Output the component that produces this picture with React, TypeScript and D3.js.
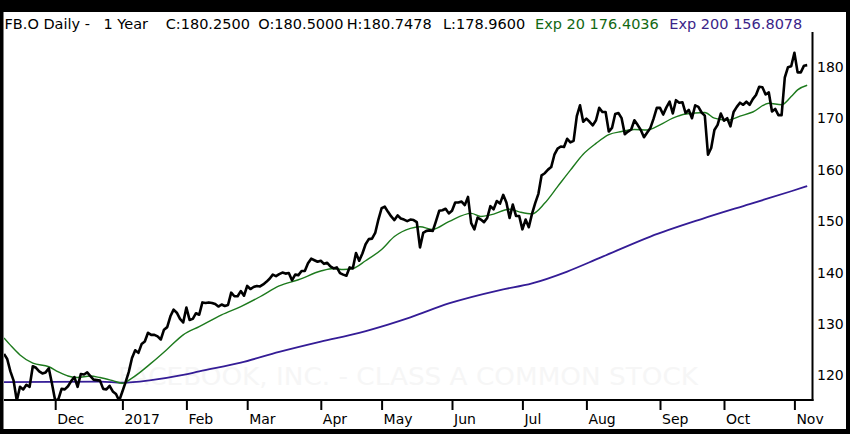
import React, { useEffect, useRef } from 'react'
import { scaleLinear, select, line, curveMonotoneX, curveLinear, axisBottom, axisRight } from 'd3'

// daily closes, one array per month (Nov 8 2016 .. Nov 7 2017)
const nov16 = [124.2, 123.2, 120.8, 119.0, 115.1, 117.8, 117.3, 118.2, 117.8, 121.8, 121.5, 120.8, 120.4, 120.6, 121.4, 118.4]
const dec16 = [115.1, 115.4, 117.4, 117.3, 117.9, 118.9, 119.7, 117.8, 120.3, 120.2, 120.6, 119.9, 119.2, 119.1, 119.0, 117.4, 117.3, 118.0, 116.9, 116.4, 115.1]
const jan17 = [116.9, 118.7, 120.7, 123.4, 124.9, 124.4, 126.1, 126.6, 128.3, 127.9, 127.9, 127.6, 127.0, 128.9, 129.4, 131.5, 132.8, 132.2, 131.0, 130.3]
const feb17 = [133.2, 130.8, 131.0, 132.1, 131.8, 134.2, 134.1, 134.2, 134.1, 133.9, 133.4, 133.8, 133.5, 133.7, 136.1, 135.4, 135.4, 136.4, 135.5]
const mar17 = [137.4, 136.8, 137.2, 137.4, 137.3, 137.7, 138.2, 138.8, 139.6, 139.3, 139.7, 140.0, 139.8, 139.9, 138.5, 139.6, 139.5, 140.3, 140.3, 141.8, 142.7, 142.4, 142.1]
const apr17 = [142.3, 141.7, 141.9, 141.2, 140.8, 141.0, 139.9, 139.6, 139.4, 141.0, 140.8, 143.8, 142.3, 143.7, 145.5, 146.5, 146.6, 147.7, 150.3]
const may17 = [152.5, 152.8, 151.8, 150.9, 150.2, 151.1, 150.5, 150.3, 150.0, 150.3, 150.2, 149.8, 144.9, 147.7, 148.1, 148.2, 148.1, 150.0, 152.0, 152.1, 152.4, 151.5]
const jun17 = [152.0, 153.6, 153.6, 153.8, 153.1, 154.7, 149.6, 148.4, 150.7, 150.3, 149.8, 150.6, 152.9, 152.3, 153.9, 153.4, 155.1, 153.6, 150.6, 153.2, 151.0, 151.0]
const jul17 = [148.4, 150.3, 148.8, 151.4, 153.5, 155.3, 158.9, 159.3, 160.0, 160.5, 162.9, 164.1, 164.5, 164.4, 166.0, 165.3, 165.6, 170.4, 172.5, 169.3]
const aug17 = [169.9, 169.3, 168.6, 169.6, 172.0, 171.2, 171.2, 167.4, 168.1, 170.8, 171.0, 170.0, 166.9, 167.4, 167.8, 169.6, 168.7, 167.7, 166.3, 167.2, 168.1, 169.9, 172.0]
const sep17 = [172.0, 170.7, 172.1, 173.2, 170.9, 173.5, 173.0, 173.1, 171.0, 171.6, 170.0, 172.5, 172.2, 171.1, 170.5, 162.9, 164.2, 167.7, 168.7, 170.9]
const oct17 = [169.5, 170.0, 168.4, 171.2, 172.2, 173.0, 172.6, 173.2, 172.6, 173.7, 174.5, 176.1, 176.0, 174.6, 175.0, 171.3, 171.8, 170.6, 170.6, 177.9, 179.9, 180.1]
const nov17 = [182.7, 178.9, 178.9, 180.2, 180.3]

const closesByMonth = [nov16, dec16, jan17, feb17, mar17, apr17, may17, jun17, jul17, aug17, sep17, oct17, nov17]
const monthLabels = ['', 'Dec', '2017', 'Feb', 'Mar', 'Apr', 'May', 'Jun', 'Jul', 'Aug', 'Sep', 'Oct', 'Nov']

// moving averages (trading day index -> value)
const ema20Days = [0, 2, 5, 9, 14, 17, 20, 23, 27, 30, 34, 37, 40, 46, 51, 56, 61, 68, 74, 80, 86, 92, 99, 103, 106, 109, 113, 118, 122, 127, 130, 134, 139, 146, 149, 152, 158, 161, 165, 169, 173, 177, 181, 185, 189, 193, 197, 201, 205, 209, 213, 219, 222, 226, 230, 234, 239, 243, 246, 248, 251]
const ema20Values = [127.3, 125.9, 124.0, 122.4, 121.7, 120.7, 119.9, 119.6, 119.9, 119.6, 119.0, 118.5, 119.5, 122.4, 125.1, 127.9, 129.5, 131.8, 133.4, 135.3, 137.4, 138.6, 140.3, 140.8, 140.6, 140.8, 142.3, 144.5, 147.0, 148.6, 148.9, 148.4, 149.9, 151.5, 150.9, 151.2, 152.3, 151.8, 151.4, 153.5, 156.7, 159.9, 163.0, 165.1, 166.8, 167.4, 167.8, 167.7, 168.7, 170.0, 170.8, 171.1, 170.0, 169.6, 170.4, 171.2, 172.9, 172.6, 174.2, 175.5, 176.4]
const ema200Days = [0, 30, 37, 46, 56, 61, 74, 86, 99, 111, 120, 127, 139, 155, 165, 176, 186, 202, 218, 233, 246, 251]
const ema200Values = [118.7, 118.8, 118.6, 119.1, 120.1, 120.8, 122.5, 124.6, 126.6, 128.3, 129.9, 131.3, 134.0, 136.6, 137.9, 140.2, 142.8, 147.0, 150.4, 153.3, 155.8, 156.8]

const yTicks = [120, 130, 140, 150, 160, 170, 180]

const titleParts = ['FB.O Daily -', '1 Year']
const ohlcParts = ['C:180.2500', 'O:180.5000', 'H:180.7478', 'L:178.9600']
const ema20Label = 'Exp 20 176.4036'
const ema200Label = 'Exp 200 156.8078'
const watermark = 'FACEBOOK, INC. - CLASS A COMMON STOCK'

const App = () => {
    const chartRef = useRef<SVGSVGElement>(null)

    useEffect(() => {
        const width = 850
        const height = 434
        const plot = { left: 4, right: 812.5, top: 32, bottom: 400 }
        const font = "'DejaVu Sans', Verdana, sans-serif"

        const svg = select(chartRef.current)
        svg.selectAll('*').remove()

        const closes = closesByMonth.flat()
        const monthStarts: number[] = []
        let n = 0
        closesByMonth.forEach(m => { monthStarts.push(n); n += m.length })

        const x = scaleLinear().domain([0, closes.length - 1]).range([4, 807.2])
        const y = scaleLinear().domain([120, 180]).range([375.5, 66.7])

        // frame
        svg.append('rect').attr('width', width).attr('height', height).attr('fill', '#000')
        svg.append('rect').attr('x', 3.5).attr('y', 12).attr('width', 842.5).attr('height', 417).attr('fill', '#fff')

        svg.append('defs').append('clipPath').attr('id', 'plotclip')
            .append('rect').attr('x', plot.left).attr('y', plot.top)
            .attr('width', plot.right - plot.left).attr('height', plot.bottom - plot.top)

        // watermark
        svg.append('text')
            .attr('x', 408).attr('y', 385)
            .attr('text-anchor', 'middle')
            .attr('textLength', 580).attr('lengthAdjust', 'spacingAndGlyphs')
            .style('font-family', font).style('font-size', '24px')
            .attr('fill', '#f6f6f6')
            .text(watermark)

        // header
        const header = svg.append('text').attr('y', 29)
            .style('font-family', font).style('font-size', '14.5px')
        const headerX = [4.5, 103.5, 165.7, 258.3, 346.7, 443, 535, 669.3]
        const parts = [...titleParts, ...ohlcParts]
        parts.forEach((t, i) => header.append('tspan').attr('x', headerX[i]).attr('fill', '#000').text(t))
        header.append('tspan').attr('x', headerX[6]).attr('fill', '#126812').text(ema20Label)
        header.append('tspan').attr('x', headerX[7]).attr('fill', '#3a2488').text(ema200Label)

        const g = svg.append('g').attr('clip-path', 'url(#plotclip)')

        const ema200Line = line<number>().x((d, i) => x(ema200Days[i])).y(d => y(d)).curve(curveMonotoneX)
        const ema20Line = line<number>().x((d, i) => x(ema20Days[i])).y(d => y(d)).curve(curveMonotoneX)
        const priceLine = line<number>().x((d, i) => x(i)).y(d => y(d)).curve(curveLinear)

        g.append('path').attr('d', ema200Line(ema200Values))
            .attr('fill', 'none').attr('stroke', '#341c96').attr('stroke-width', 1.8)
        g.append('path').attr('d', ema20Line(ema20Values))
            .attr('fill', 'none').attr('stroke', '#1d7a1d').attr('stroke-width', 1.4)
        g.append('path').attr('d', priceLine(closes))
            .attr('fill', 'none').attr('stroke', '#000').attr('stroke-width', 2.6)
            .attr('stroke-linejoin', 'round')

        // bottom axis
        const xAxis = svg.append('g')
            .attr('transform', `translate(0, ${plot.bottom})`)
            .call(axisBottom(x)
                .tickValues(monthStarts.slice(1))
                .tickSize(10)
                .tickFormat((d, i) => monthLabels[i + 1]))
        xAxis.select('.domain').remove()
        xAxis.selectAll('line').attr('stroke', '#000').attr('stroke-width', 2)
        xAxis.selectAll('text')
            .attr('text-anchor', 'start').attr('x', 1.5).attr('y', 14).attr('dy', '0.71em')
            .attr('fill', '#000')
            .style('font-family', font).style('font-size', '14px')

        // right axis
        const yAxis = svg.append('g')
            .attr('transform', `translate(${plot.right}, 0)`)
            .call(axisRight(y).tickValues(yTicks).tickSize(0).tickPadding(4.5))
        yAxis.select('.domain').remove()
        yAxis.selectAll('text')
            .attr('fill', '#000')
            .style('font-family', font).style('font-size', '14px')

        svg.append('line')
            .attr('x1', plot.left).attr('x2', plot.right + 1)
            .attr('y1', plot.bottom).attr('y2', plot.bottom)
            .attr('stroke', '#000').attr('stroke-width', 2)
        svg.append('line')
            .attr('x1', plot.right).attr('x2', plot.right)
            .attr('y1', plot.top).attr('y2', plot.bottom + 1)
            .attr('stroke', '#000').attr('stroke-width', 2)
    }, [chartRef])

    return (
        <svg ref={chartRef} width={850} height={434}
            style={{ position: 'absolute', left: 0, top: 0, display: 'block' }} />
    )
}

export default App
